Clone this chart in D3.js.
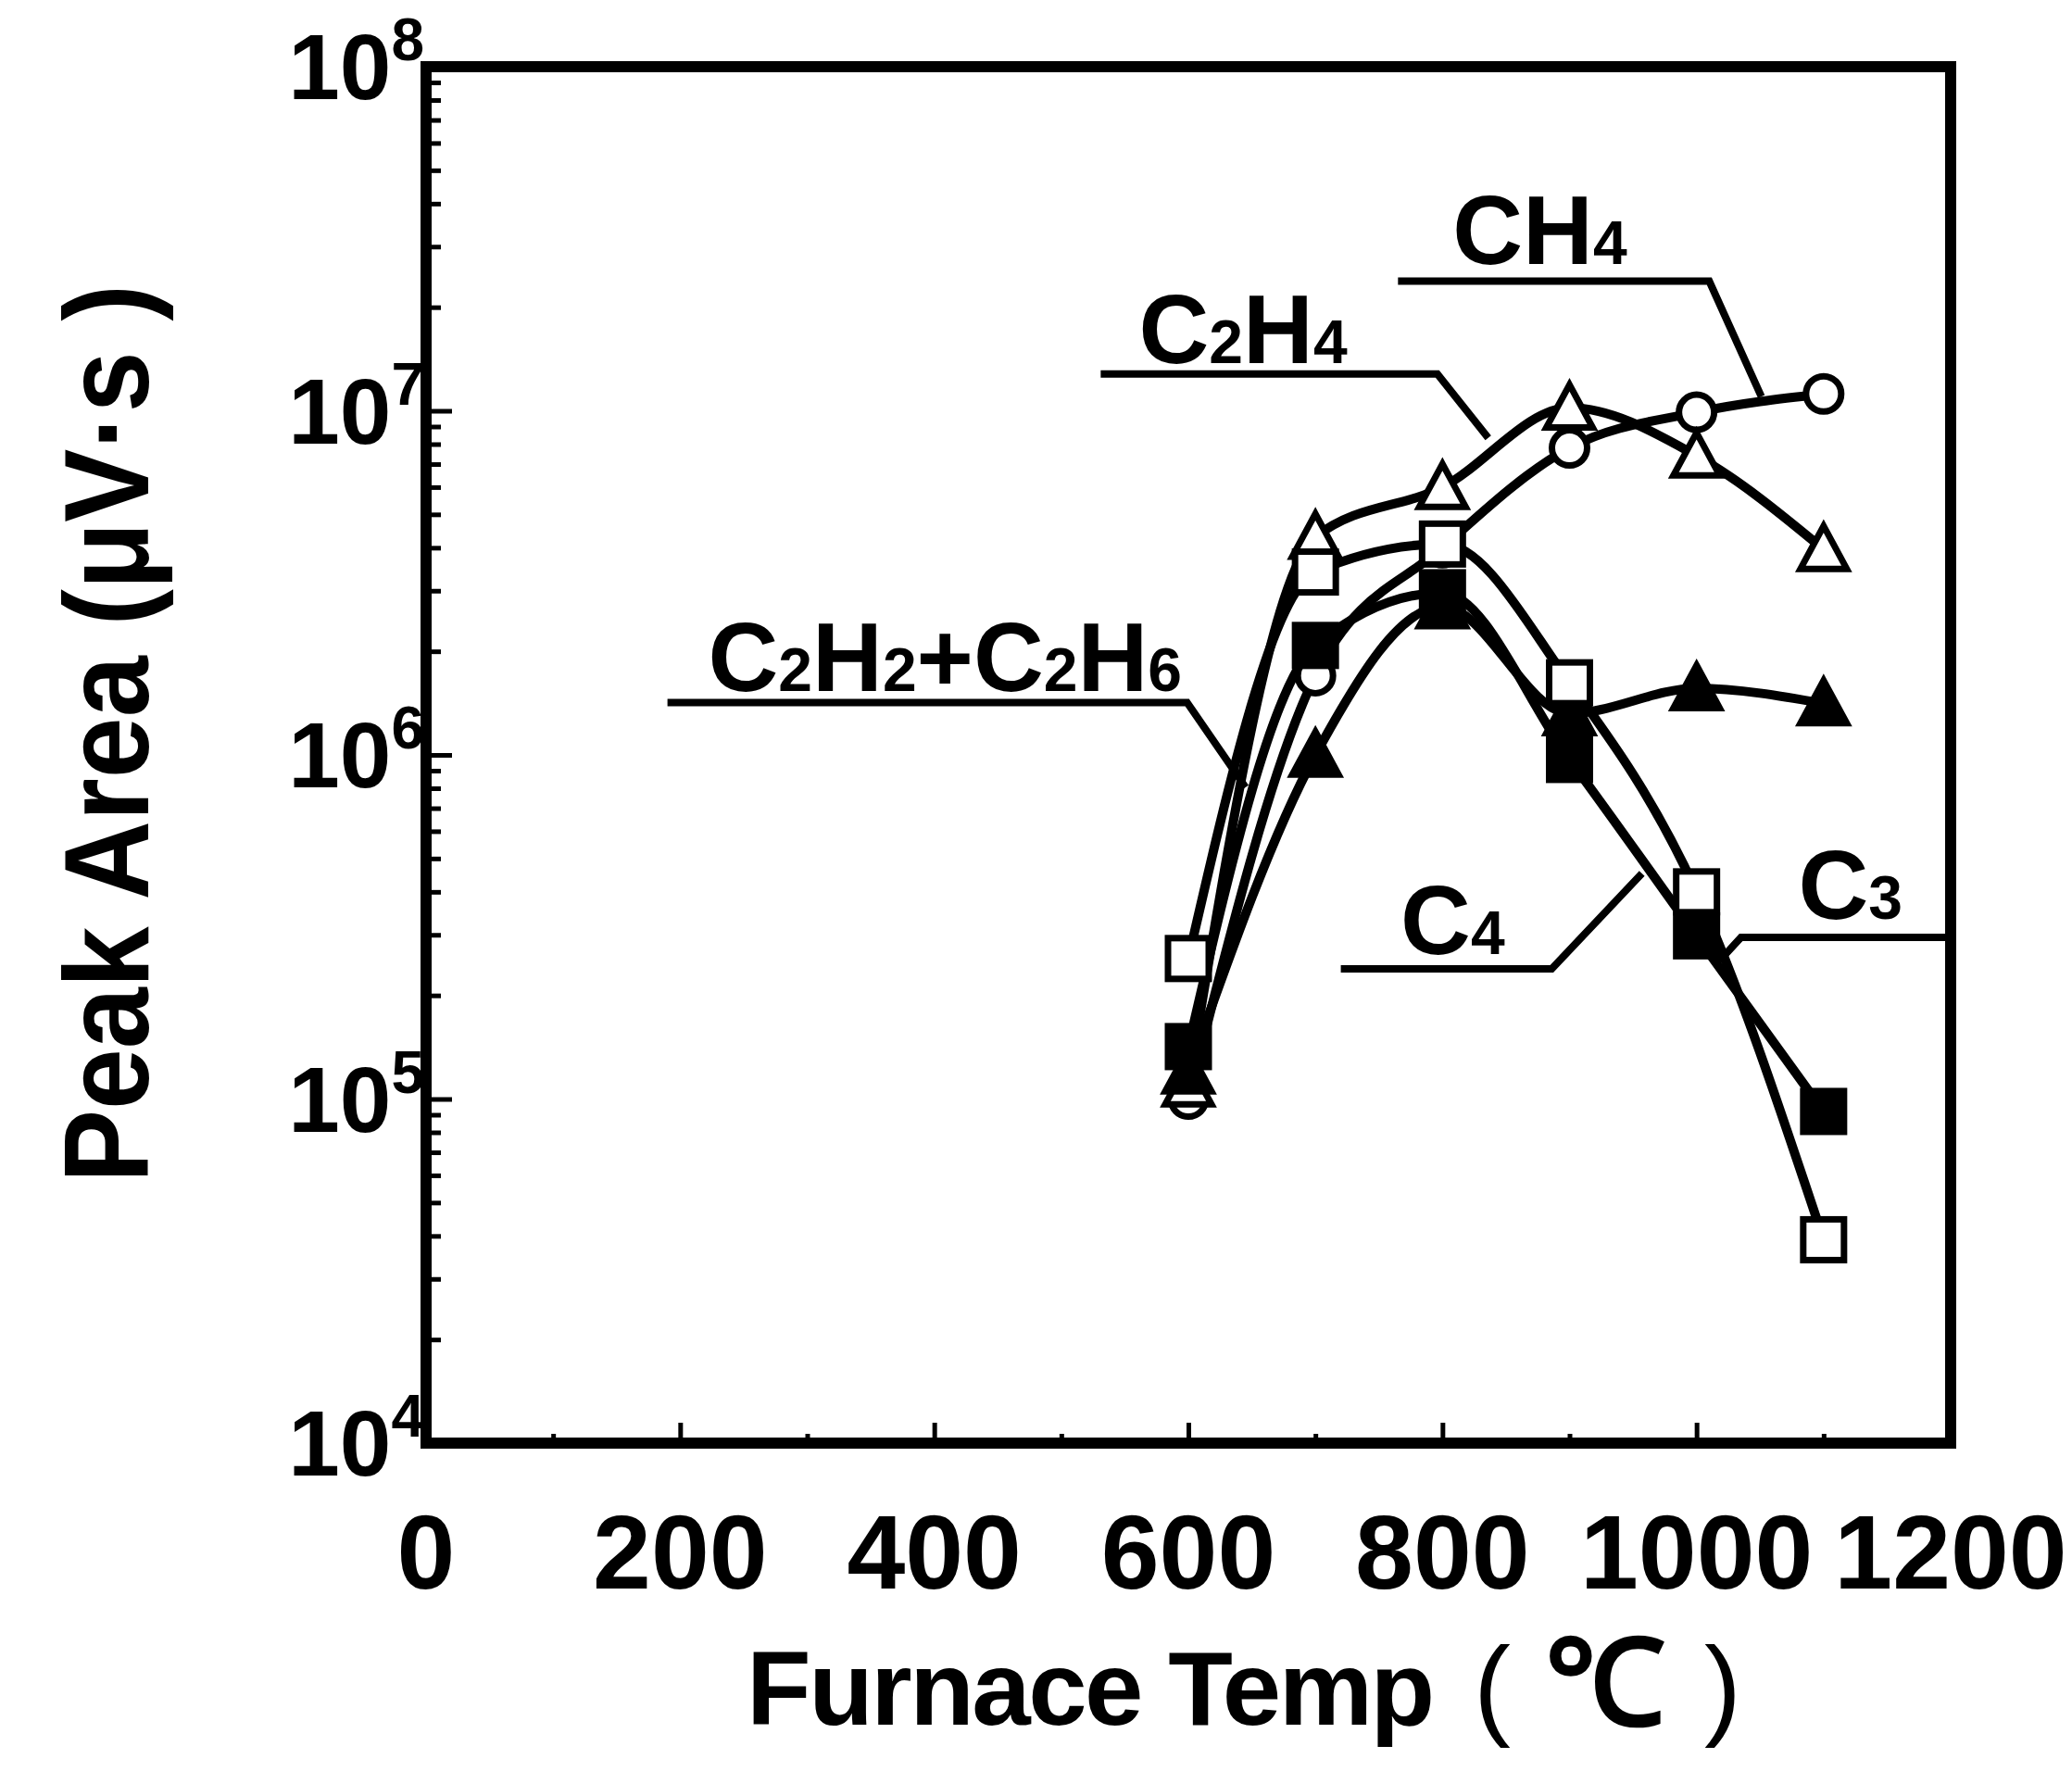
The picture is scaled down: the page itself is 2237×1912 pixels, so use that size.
<!DOCTYPE html>
<meta charset="utf-8" />
<style>
  body { margin: 0; background: #fff; }
  text { font-family: "Liberation Sans", Arial, sans-serif; fill: #000; }
  .frame { fill: none; stroke: #000; stroke-width: 12px; }
  .curve { fill: none; stroke: #000; stroke-width: 10px; stroke-linejoin: round; }
  .ticks line { stroke: #000; stroke-width: 5px; }
  .ticks path { display: none; }
  .leader { fill: none; stroke: #000; stroke-width: 8px; }
</style>
<svg width="2237" height="1912"></svg>
<script src="https://cdnjs.cloudflare.com/ajax/libs/d3/7.8.5/d3.min.js"></script>
<script>
  // furnace temperatures (deg C)
  var temps = [600, 700, 800, 900, 1000, 1100];

  // peak areas (uV*s)
  var ch4 = [1.0e5, 1.7e6, 4.0e6, 7.8e6, 9.9e6, 1.12e7];
  var c2h4 = [1.1e5, 4.3e6, 6.0e6, 1.02e7, 7.4e6, 3.96e6];
  var c2h2c2h6 = [1.2e5, 1.0e6, 2.7e6, 1.32e6, 1.56e6, 1.41e6];
  var c3 = [2.56e5, 3.4e6, 4.1e6, 1.62e6, 4.0e5, 3.9e4];
  var c4 = [1.42e5, 2.08e6, 2.96e6, 9.7e5, 2.98e5, 9.2e4];

  var xTicks = [0, 200, 400, 600, 800, 1000, 1200];
  var yTicks = [1e4, 1e5, 1e6, 1e7, 1e8];

  // label text, text anchor and leader line, all in data units
  var labelNames = ["CH4", "C2H4", "C2H2+C2H6", "C4", "C3"];
  var labelAt = [[808, 2.67e7], [561, 1.38e7], [222, 1.53e6], [767, 2.64e5], [1080, 3.34e5]];
  var leaders = [
    [[765, 2.38e7], [1010, 2.38e7], [1051, 1.10e7]],
    [[531, 1.28e7], [796, 1.28e7], [836, 8.34e6]],
    [[190, 1.42e6], [599, 1.42e6], [645, 8.05e5]],
    [[720, 2.39e5], [886, 2.39e5], [957, 4.52e5]],
    [[1200, 2.95e5], [1035, 2.95e5], [1018, 2.52e5]]
  ];

  var svg = d3.select("svg"),
    width = +svg.attr("width"),
    height = +svg.attr("height");

  svg.append("rect").attr("width", width).attr("height", height).attr("fill", "#fff");

  var plotLeft = 460, plotRight = 2106, plotTop = 72, plotBottom = 1558;

  var x = d3.scaleLinear().domain([0, 1200]).range([plotLeft, plotRight]);
  var y = d3.scaleLog().domain([1e4, 1e8]).range([plotBottom, plotTop]);

  // minor + major ticks, pointing inward
  var yMinor = [];
  for (var e = 4; e < 8; e++) {
    for (var m = 2; m < 10; m++) yMinor.push(m * Math.pow(10, e));
  }
  svg.append("g").attr("class", "ticks")
    .attr("transform", "translate(" + plotLeft + ",0)")
    .call(d3.axisLeft(y).tickValues(yMinor).tickSize(-16).tickFormat(""));
  svg.append("g").attr("class", "ticks")
    .attr("transform", "translate(" + plotLeft + ",0)")
    .call(d3.axisLeft(y).tickValues(yTicks).tickSize(-28).tickFormat(""));
  svg.append("g").attr("class", "ticks")
    .attr("transform", "translate(0," + plotBottom + ")")
    .call(d3.axisBottom(x).tickValues(d3.range(100, 1200, 200)).tickSize(-10).tickFormat(""));
  svg.append("g").attr("class", "ticks")
    .attr("transform", "translate(0," + plotBottom + ")")
    .call(d3.axisBottom(x).tickValues(xTicks).tickSize(-22).tickFormat(""));

  svg.append("rect").attr("class", "frame")
    .attr("x", plotLeft).attr("y", plotTop)
    .attr("width", plotRight - plotLeft).attr("height", plotBottom - plotTop);

  // tick labels
  yTicks.forEach(function (v) {
    var t = svg.append("text")
      .attr("x", plotLeft - 2).attr("y", y(v) + 35)
      .attr("text-anchor", "end")
      .style("font-size", "100px").style("font-weight", "bold");
    t.append("tspan").text("10");
    t.append("tspan").attr("dy", -42).style("font-size", "64px")
      .text(Math.round(Math.log10(v)));
  });

  svg.selectAll(".xlab").data(xTicks).enter().append("text")
    .attr("class", "xlab")
    .attr("x", function (d) { return x(d); })
    .attr("y", 1715)
    .attr("text-anchor", "middle")
    .style("font-size", "113px").style("font-weight", "bold")
    .text(function (d) { return d; });

  // axis titles
  svg.append("text")
    .attr("transform", "translate(160,792) rotate(-90)")
    .attr("text-anchor", "middle")
    .attr("textLength", 970).attr("lengthAdjust", "spacingAndGlyphs")
    .style("font-size", "130px").style("font-weight", "bold")
    .text("Peak Area (\u03bcV\u00b7s )");

  svg.append("text").attr("x", 806).attr("y", 1862)
    .style("font-size", "114px").style("font-weight", "bold")
    .style("letter-spacing", "-2.5px")
    .text("Furnace Temp");
  svg.append("text").attr("x", 1591).attr("y", 1862)
    .style("font-size", "120px").text("(");
  svg.append("text").attr("x", 1668).attr("y", 1862)
    .style("font-size", "130px").style("font-weight", "bold").text("\u2103");
  svg.append("text").attr("x", 1840).attr("y", 1862)
    .style("font-size", "120px").text(")");

  // series
  var series = [
    { name: "CH4", values: ch4, marker: "circle", filled: false },
    { name: "C2H4", values: c2h4, marker: "triangle", filled: false },
    { name: "C2H2+C2H6", values: c2h2c2h6, marker: "triangle", filled: true },
    { name: "C3", values: c3, marker: "square", filled: false },
    { name: "C4", values: c4, marker: "square", filled: true }
  ];

  var line = d3.line()
    .x(function (d) { return x(d[0]); })
    .y(function (d) { return y(d[1]); })
    .curve(d3.curveMonotoneX);

  series.forEach(function (s) {
    svg.append("path").attr("class", "curve")
      .attr("d", line(temps.map(function (t, i) { return [t, s.values[i]]; })));
  });

  // leader lines and labels
  var straight = d3.line()
    .x(function (d) { return x(d[0]); })
    .y(function (d) { return y(d[1]); });
  leaders.forEach(function (pts) {
    svg.append("path").attr("class", "leader").attr("d", straight(pts));
  });

  labelNames.forEach(function (name, i) {
    var t = svg.append("text")
      .attr("x", x(labelAt[i][0])).attr("y", y(labelAt[i][1]))
      .style("font-size", "105px").style("font-weight", "bold");
    name.split(/(\d)/).forEach(function (part) {
      if (!part) return;
      var sp = t.append("tspan").text(part);
      if (/\d/.test(part)) sp.style("font-size", "66px");
    });
  });

  // markers
  series.forEach(function (s) {
    var g = svg.append("g");
    temps.forEach(function (t, i) {
      var cx = x(t), cy = y(s.values[i]);
      var fill = s.filled ? "#000" : "#fff";
      if (s.marker === "circle") {
        g.append("circle").attr("cx", cx).attr("cy", cy).attr("r", 19)
          .attr("fill", fill).attr("stroke", "#000").attr("stroke-width", 7);
      } else if (s.marker === "square") {
        g.append("rect").attr("x", cx - 22).attr("y", cy - 22)
          .attr("width", 44).attr("height", 44)
          .attr("fill", fill).attr("stroke", "#000").attr("stroke-width", 7);
      } else {
        var h = 25;
        g.append("path")
          .attr("d", "M" + cx + "," + (cy - h) + "L" + (cx + h) + "," + (cy + h * 0.85) +
            "L" + (cx - h) + "," + (cy + h * 0.85) + "Z")
          .attr("fill", fill).attr("stroke", "#000").attr("stroke-width", 7)
          .attr("stroke-linejoin", "miter");
      }
    });
  });
</script>
